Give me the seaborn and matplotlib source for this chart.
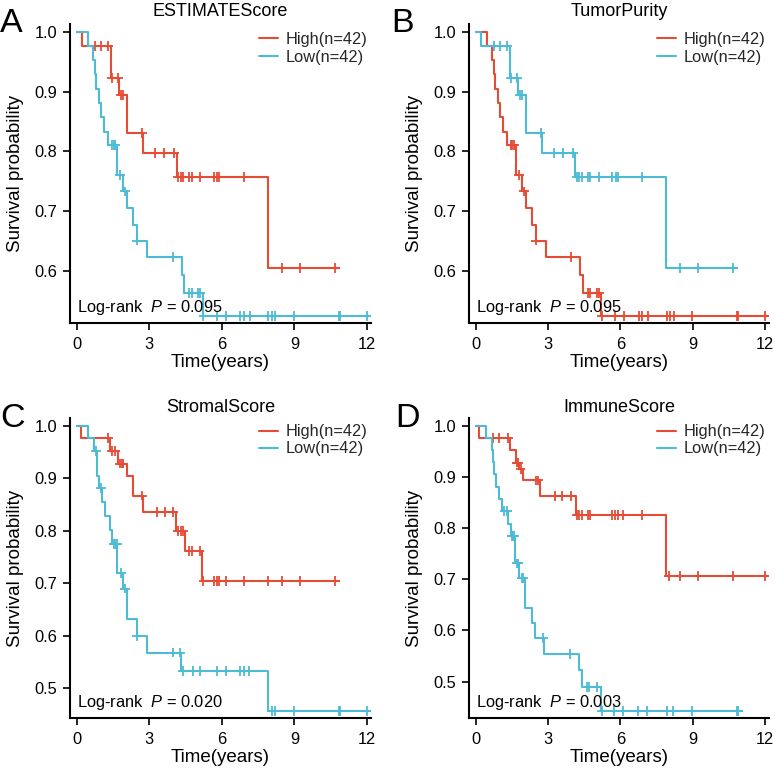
import numpy as np
import pandas as pd
import matplotlib
matplotlib.use('Agg')
import matplotlib.pyplot as plt
import seaborn as sns

# --- values (time in years) ---
titles = ['ESTIMATEScore', 'TumorPurity', 'StromalScore', 'ImmuneScore']
letters = ['A', 'B', 'C', 'D']
p_values = ['0.095', '0.095', '0.020', '0.003']
group_labels = ['High(n=42)', 'Low(n=42)']
x_ticks = [0, 3, 6, 9, 12]
y_ticks_top = [0.6, 0.7, 0.8, 0.9, 1.0]
y_ticks_bottom = [0.5, 0.6, 0.7, 0.8, 0.9, 1.0]

# ESTIMATEScore high / low (TumorPurity is the mirror image)
est_high_t = [0.21, 1.42, 1.76, 2.07, 2.76, 4.13, 7.89]
est_high_s = [0.976, 0.922, 0.894, 0.830, 0.797, 0.757, 0.605]
est_high_cens = [0.76, 1.01, 1.31, 1.47, 1.70, 1.83, 1.93, 2.69, 3.24, 3.62,
                 4.04, 4.20, 4.30, 4.40, 4.66, 4.76, 5.10, 5.66, 5.80, 5.90,
                 6.90, 8.48, 9.24, 10.69]
est_high_end = 10.83

est_low_t = [0.45, 0.69, 0.76, 0.81, 0.91, 0.99, 1.13, 1.30, 1.66, 1.90,
             2.07, 2.34, 2.48, 2.90, 4.34, 4.44, 5.21]
est_low_s = [0.976, 0.952, 0.929, 0.905, 0.881, 0.857, 0.833, 0.810, 0.760,
             0.733, 0.705, 0.677, 0.651, 0.623, 0.593, 0.563, 0.525]
est_low_cens = [1.45, 1.52, 1.60, 1.79, 2.00, 2.50, 3.96, 4.65, 4.76, 5.03,
                5.10, 5.24, 5.79, 6.17, 6.76, 6.90, 7.15, 7.93, 8.07, 8.21,
                8.99, 10.83, 10.90, 12.00]
est_low_end = 12.14

# StromalScore
str_high_t = [0.18, 1.38, 1.72, 2.07, 2.34, 2.76, 4.11, 4.48, 5.17]
str_high_s = [0.976, 0.952, 0.928, 0.904, 0.867, 0.836, 0.800, 0.762, 0.704]
str_high_cens = [1.31, 1.45, 1.59, 1.79, 1.86, 1.93, 2.69, 3.30, 3.66, 4.00,
                 4.20, 4.30, 4.40, 4.66, 4.76, 5.08, 5.24, 5.66, 5.80, 5.90,
                 6.17, 6.90, 7.93, 8.48, 9.24, 10.69]
str_high_end = 10.83

str_low_t = [0.45, 0.73, 0.83, 0.94, 1.03, 1.17, 1.38, 1.45, 1.68, 1.90,
             2.07, 2.48, 2.90, 4.30, 7.89]
str_low_s = [0.976, 0.952, 0.905, 0.881, 0.855, 0.829, 0.802, 0.775, 0.720,
             0.690, 0.631, 0.600, 0.568, 0.533, 0.457]
str_low_cens = [0.79, 1.00, 1.52, 1.59, 1.65, 1.82, 2.00, 2.50, 4.00, 4.28,
                4.41, 4.80, 5.08, 5.79, 6.18, 6.76, 6.90, 7.14, 8.07, 8.21,
                8.99, 10.83, 10.90, 12.00]
str_low_end = 12.14

# ImmuneScore
imm_high_t = [0.14, 1.43, 1.65, 1.80, 1.98, 2.68, 4.16, 7.88]
imm_high_s = [0.976, 0.952, 0.928, 0.915, 0.893, 0.862, 0.825, 0.707]
imm_high_cens = [0.70, 0.98, 1.33, 1.70, 1.76, 1.86, 2.50, 2.60, 3.29, 3.57,
                 3.96, 4.20, 4.30, 4.40, 4.67, 4.76, 5.64, 5.78, 5.92, 6.13,
                 6.89, 8.00, 8.48, 9.24, 10.69, 12.00]
imm_high_end = 12.14

imm_low_t = [0.42, 0.66, 0.72, 0.76, 0.85, 0.98, 1.07, 1.35, 1.45, 1.63,
             1.80, 2.04, 2.32, 2.46, 2.85, 4.30, 4.40, 5.20]
imm_low_s = [0.976, 0.952, 0.929, 0.905, 0.881, 0.857, 0.833, 0.808, 0.784,
             0.731, 0.703, 0.644, 0.614, 0.585, 0.554, 0.523, 0.490, 0.443]
imm_low_cens = [1.19, 1.30, 1.50, 1.55, 1.60, 1.70, 1.77, 1.90, 1.98, 2.80,
                3.91, 4.60, 4.70, 5.02, 5.22, 5.75, 6.13, 6.72, 7.10, 7.93,
                8.20, 8.96, 10.83, 10.90]
imm_low_end = 11.04

palette = {group_labels[0]: '#E64B35', group_labels[1]: '#4DBBD5'}


def km_frame(event_t, event_s, end_t, label):
    t = [0.0] + list(event_t) + [end_t]
    s = [1.0] + list(event_s) + [event_s[-1]]
    return pd.DataFrame({'time': t, 'surv': s, 'group': label})


def censor_frame(event_t, event_s, cens_t, label):
    t_steps = np.array([0.0] + list(event_t))
    s_steps = np.array([1.0] + list(event_s))
    idx = np.searchsorted(t_steps, cens_t, side='right') - 1
    return pd.DataFrame({'time': cens_t, 'surv': s_steps[idx], 'group': label})


# (high curve, low curve) per panel
curves = [
    ((est_high_t, est_high_s, est_high_cens, est_high_end),
     (est_low_t, est_low_s, est_low_cens, est_low_end)),
    ((est_low_t, est_low_s, est_low_cens, est_low_end),
     (est_high_t, est_high_s, est_high_cens, est_high_end)),
    ((str_high_t, str_high_s, str_high_cens, str_high_end),
     (str_low_t, str_low_s, str_low_cens, str_low_end)),
    ((imm_high_t, imm_high_s, imm_high_cens, imm_high_end),
     (imm_low_t, imm_low_s, imm_low_cens, imm_low_end)),
]

sns.set_theme(style='ticks')
plt.rcParams['font.family'] = ['Liberation Sans', 'DejaVu Sans']
plt.rcParams['mathtext.fontset'] = 'custom'
plt.rcParams['mathtext.it'] = 'Liberation Sans:italic'
plt.rcParams['mathtext.rm'] = 'Liberation Sans'

W = 775
fig = plt.figure(figsize=(7.75, 7.75), dpi=100)

# axes boxes in pixels: left, top, width, height
boxes = [(70, 24, 301, 299), (469, 24, 300, 299),
         (70, 418, 301, 300), (469, 418, 300, 300)]
letter_pos = [(0, 32), (391, 32), (0, 427), (395, 427)]
title_pads = [6.0, 6.0, 4.6, 4.6]

for i, ax_box in enumerate(boxes):
    l, t, w, h = ax_box
    ax = fig.add_axes([l / W, (W - t - h) / W, w / W, h / W])

    lines = []
    marks = []
    for label, (ev_t, ev_s, cens, end) in zip(group_labels, curves[i]):
        lines.append(km_frame(ev_t, ev_s, end, label))
        marks.append(censor_frame(ev_t, ev_s, cens, label))
    df_line = pd.concat(lines, ignore_index=True)
    df_mark = pd.concat(marks, ignore_index=True)

    sns.lineplot(data=df_line, x='time', y='surv', hue='group',
                 hue_order=group_labels, palette=palette, estimator=None,
                 drawstyle='steps-post', linewidth=1.5, ax=ax)
    sns.scatterplot(data=df_mark, x='time', y='surv', hue='group',
                    hue_order=group_labels, palette=palette, marker='+',
                    s=50, linewidth=1.3, legend=False, ax=ax)

    handles, labels = ax.get_legend_handles_labels()
    ax.legend(handles, labels, loc='upper right',
              bbox_to_anchor=(1.0, 0.985 if i < 2 else 0.99),
              frameon=False, fontsize=11.8, handlelength=1.15,
              handletextpad=0.5, labelspacing=0.2 if i < 2 else 0.12,
              borderpad=0.2, borderaxespad=0)

    lo = min(curves[i][0][1][-1], curves[i][1][1][-1])
    rng = 1.0 - lo
    ax.set_ylim(lo - 0.025 * rng, 1.0 + 0.027 * rng)
    ax.set_xlim(-0.28, 12.17)
    ax.set_xticks(x_ticks)
    ax.set_xticklabels([str(v) for v in x_ticks])
    yt = y_ticks_top if i < 2 else y_ticks_bottom
    ax.set_yticks(yt)
    ax.set_yticklabels([f'{v:.1f}' for v in yt])

    sns.despine(ax=ax)
    for side in ['left', 'bottom']:
        ax.spines[side].set_linewidth(1.5)
        ax.spines[side].set_color('black')
    ax.tick_params(axis='both', length=4.8, width=1.2, color='black',
                   labelsize=11.8, labelcolor='black')
    ax.tick_params(axis='x', pad=5)
    ax.tick_params(axis='y', pad=4.5)

    ax.set_xlabel('Time(years)', fontsize=13.5, labelpad=2, color='black')
    ax.set_ylabel('Survival probability', fontsize=13.5, color='black')
    ax.yaxis.set_label_coords(-0.152, 0.5)
    ax.set_title(titles[i], fontsize=13, pad=title_pads[i], color='black')

    ax.text(0.022, 0.038, 'Log-rank  $\\mathit{P}$ = ' + p_values[i],
            transform=ax.transAxes, fontsize=11.8, va='baseline',
            ha='left', color='black')

    lx, ly = letter_pos[i]
    fig.text(lx / W, (W - ly) / W, letters[i], fontsize=24.5,
             va='baseline', ha='left', color='black')

fig.savefig('out.png', dpi=100)
